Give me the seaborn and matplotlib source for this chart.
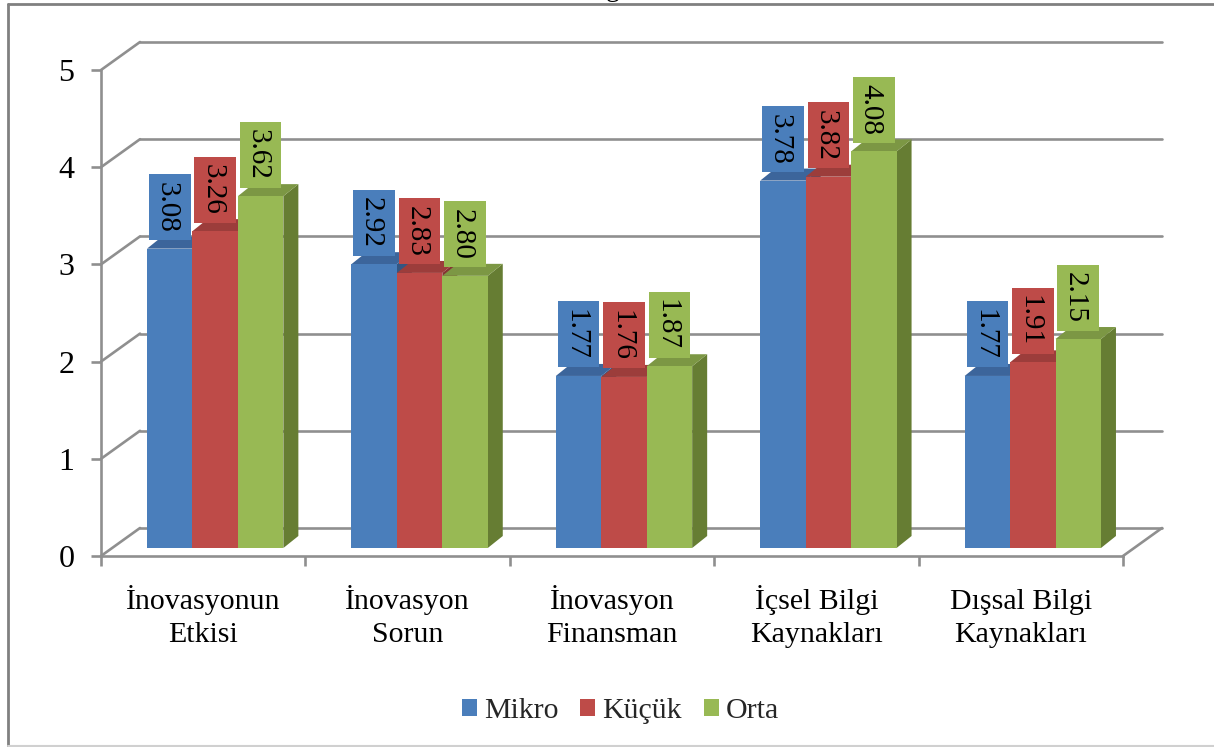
import matplotlib
matplotlib.use("Agg")
import matplotlib.pyplot as plt
from matplotlib.patches import Polygon, Rectangle
from matplotlib.lines import Line2D
from matplotlib.transforms import Affine2D
import pandas as pd
import seaborn as sns

categories = ["İnovasyonun\nEtkisi", "İnovasyon\nSorun", "İnovasyon\nFinansman",
              "İçsel Bilgi\nKaynakları", "Dışsal Bilgi\nKaynakları"]
mikro = [3.08, 2.92, 1.77, 3.78, 1.77]
kucuk = [3.26, 2.83, 1.76, 3.82, 1.91]
orta = [3.62, 2.80, 1.87, 4.08, 2.15]
series_names = ["Mikro", "Küçük", "Orta"]
front = ["#4A7EBB", "#BE4B48", "#98B954"]
top_c = ["#3C659B", "#9C3D3B", "#7C9744"]
side_c = ["#335683", "#843432", "#667D33"]
label_c = ["#4A7EBB", "#BE4B48", "#98B954"]
GRID = "#8F8F8F"

W, H = 1214, 747
L, R, T, B = 101, 1123, 70, 556
sns.set_theme(style="white")
plt.rcParams["font.family"] = ["Liberation Serif", "DejaVu Serif"]

df = pd.DataFrame({
    "cat": categories * 3,
    "series": sum([[s] * 5 for s in series_names], []),
    "value": mikro + kucuk + orta,
})

fig = plt.figure(figsize=(W / 100, H / 100), dpi=100, facecolor="white")
ax = fig.add_axes([L / W, 1 - B / H, (R - L) / W, (B - T) / H])
ax.patch.set_visible(False)
sns.barplot(data=df, x="cat", y="value", hue="series", palette=front, width=0.667,
            gap=0, saturation=1, errorbar=None, ax=ax, legend=True, linewidth=0)
ax.set_xlim(-0.5, 4.5)
ax.set_ylim(0, 5)
ax.set_xlabel("")
ax.set_ylabel("")

px = (R - L) / 5            # pixels per x unit
py = (B - T) / 5            # pixels per y unit
wall_x, wall_y = 39 / px, 28 / py      # depth of the back wall
bar_x, bar_y = 12 / px, 8 / py         # bar front plane inside the floor
deep_x, deep_y = 15 / px, 12 / py      # depth of a bar
box_w, box_h = 41.5 / px, 66 / py
box_gap = 8.5 / py
text_dx = -3 / px

# walls and floor
lw = 1.9
for v in range(6):
    ax.plot([-0.5, -0.5 + wall_x], [v, v + wall_y], color=GRID, lw=lw, clip_on=False, zorder=1)
    ax.plot([-0.5 + wall_x, 4.5 + wall_x], [v + wall_y] * 2, color=GRID, lw=lw, clip_on=False, zorder=1)
ax.plot([4.5, 4.5 + wall_x], [0, wall_y], color=GRID, lw=lw, clip_on=False, zorder=1)

# bars: front from seaborn, depth faces built on its geometry
shift = Affine2D().translate(bar_x, bar_y) + ax.transData
for i, cont in enumerate(ax.containers):
    for bar in cont:
        x0, w, h = bar.get_x(), bar.get_width(), bar.get_height()
        z = 3 + i
        bar.set_transform(shift)
        bar.set_clip_on(False)
        bar.set_zorder(z + 0.5)
        ax.add_patch(Polygon([(x0 + w, 0), (x0 + w + deep_x, deep_y), (x0 + w + deep_x, h + deep_y), (x0 + w, h)],
                             closed=True, fc=side_c[i], ec="none", transform=shift, clip_on=False, zorder=z))
        ax.add_patch(Polygon([(x0, h), (x0 + deep_x, h + deep_y), (x0 + w + deep_x, h + deep_y), (x0 + w, h)],
                             closed=True, fc=top_c[i], ec="none", transform=shift, clip_on=False, zorder=z))
        cx = x0 + w / 2
        ax.add_patch(Rectangle((cx - box_w / 2, h + box_gap), box_w, box_h, fc=label_c[i], ec="none",
                               transform=shift, clip_on=False, zorder=10))
        ax.text(cx + text_dx, h + box_gap + box_h / 2, f"{h:.2f}", rotation=270, ha="center", va="center",
                fontsize=21, color="black", transform=shift, zorder=11, clip_on=False)

# axes
for s in ["top", "right"]:
    ax.spines[s].set_visible(False)
for s in ["left", "bottom"]:
    ax.spines[s].set_color(GRID)
    ax.spines[s].set_linewidth(lw)
    ax.spines[s].set_zorder(2)
ax.set_yticks(range(6))
ax.tick_params(axis="y", left=True, length=7, width=lw, color=GRID, labelsize=23, pad=12, labelcolor="black")
ax.set_xticks(range(5))
ax.set_xticklabels(categories, fontsize=21.5, color="black", linespacing=1.37)
ax.set_xticks([k - 0.5 for k in range(6)], minor=True)
ax.tick_params(axis="x", which="major", bottom=False, length=0, pad=62)
ax.tick_params(axis="x", which="minor", bottom=True, length=7, width=lw, color=GRID)
for lab in ax.get_xticklabels():
    lab.set_verticalalignment("baseline")

# legend
handles, labels = ax.get_legend_handles_labels()
ax.legend(handles, labels, ncols=3, frameon=False, fontsize=21.5, loc="center",
          bbox_to_anchor=(620.5 / W, 1 - 711 / H), bbox_transform=fig.transFigure,
          handlelength=0.5, handleheight=0.5, handletextpad=0.23, columnspacing=0.74)

# outer frame of the chart image and cut-off title
fig.add_artist(Line2D([8 / W, 8 / W], [0, 1 - 3.5 / H], color="#808080", lw=2, transform=fig.transFigure))
fig.add_artist(Line2D([8 / W, 1], [1 - 3.5 / H] * 2, color="#808080", lw=2, transform=fig.transFigure))
fig.add_artist(Line2D([8 / W, 1], [1 - 746 / H] * 2, color="#D0D0D0", lw=1.5, transform=fig.transFigure))
fig.text(613 / W, 1 + 4 / H, "g", fontsize=20, ha="center", va="baseline", color="black")

fig.savefig("out.png", dpi=100)
